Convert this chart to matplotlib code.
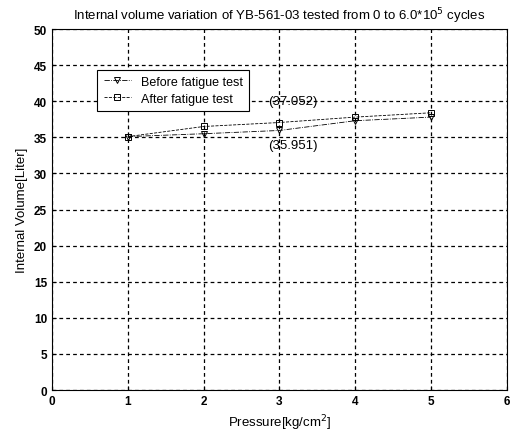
import matplotlib
matplotlib.use('Agg')
import matplotlib.pyplot as plt

plt.rcParams['font.family'] = ['Liberation Sans', 'DejaVu Sans']

# pression et volumes
pression = [1, 2, 3, 4, 5]
vol_avant = [35.1, 35.5, 35.951, 37.3, 37.8]
vol_apres = [35.1, 36.5, 37.052, 37.8, 38.4]

fig = plt.figure(figsize=(5.15, 4.35), dpi=100)
ax = fig.add_axes([0.101, 0.101, 0.883, 0.830])

ax.plot(pression, vol_avant, linestyle='-.', color='k', lw=0.6,
        marker='v', ms=5, mfc='none', mew=0.7, label='Before fatigue test')
ax.plot(pression, vol_apres, linestyle='--', color='k', lw=0.6,
        marker='s', ms=4, mfc='none', mew=0.7, label='After fatigue test')

ax.text(3.18, 40.1, '(37.052)', ha='center', va='center', fontsize=9.5)
ax.text(3.18, 34.0, '(35.951)', ha='center', va='center', fontsize=9.5)

ax.set_xlim(0, 6)
ax.set_ylim(0, 50)
ax.set_xticks(range(0, 7))
ax.set_yticks(range(0, 51, 5))
ax.grid(True, color='k', linestyle=(0, (3, 2.5)), lw=0.9)
ax.tick_params(direction='in', labelsize=8.5, length=3)
for lab in ax.get_xticklabels() + ax.get_yticklabels():
    lab.set_fontweight('bold')

ax.set_title('Internal volume variation of YB-561-03 tested from 0 to 6.0*10$^5$ cycles',
             fontsize=9.5, pad=7)
ax.set_xlabel('Pressure[kg/cm$^2$]', fontsize=9.5)
ax.set_ylabel('Internal Volume[Liter]', fontsize=9.5)

leg = ax.legend(loc='upper left', bbox_to_anchor=(0.086, 0.905), fontsize=9,
                fancybox=False, framealpha=1, edgecolor='k', handlelength=2.2,
                borderpad=0.5, labelspacing=0.4)
leg.get_frame().set_linewidth(0.8)

fig.savefig('out.png', dpi=100)
